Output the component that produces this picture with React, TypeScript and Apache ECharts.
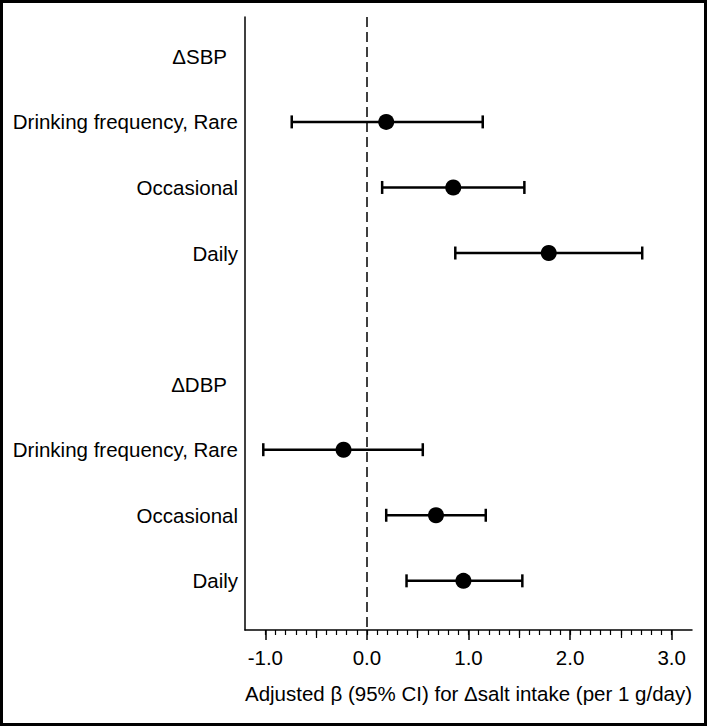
import React, { useEffect, useRef } from "react";
import * as echarts from "echarts";

const rowLabels = [
  "ΔSBP",
  "Drinking frequency, Rare",
  "Occasional",
  "Daily",
  "",
  "ΔDBP",
  "Drinking frequency, Rare",
  "Occasional",
  "Daily",
];
const headerRows = [0, 5];
const dataRows = [1, 2, 3, 6, 7, 8];
const estimates = [0.19, 0.85, 1.79, -0.23, 0.68, 0.95];
const lowerCI = [-0.74, 0.15, 0.87, -1.02, 0.19, 0.39];
const upperCI = [1.14, 1.55, 2.71, 0.55, 1.17, 1.53];
const xTickLabels = [-1, 0, 1, 2, 3];

const FONT = "'Liberation Sans', Arial, Helvetica, sans-serif";
const FS = 20.5;

export default function App() {
  const ref = useRef<HTMLDivElement>(null);
  useEffect(() => {
    document.body.style.margin = "0";
    if (!ref.current) return;
    const chart = echarts.init(ref.current, undefined, { renderer: "svg" });

    const minorTicks: number[] = [];
    for (let i = -10; i <= 30; i++) minorTicks.push(i / 10);
    const midTicks = [-0.5, 0.5, 1.5, 2.5];

    const ciData = dataRows.map((r, i) => [lowerCI[i], upperCI[i], r]);
    const pointData = dataRows.map((r, i) => [estimates[i], r]);
    const labelRows = rowLabels.map((_, i) => i).filter((i) => rowLabels[i] !== "");

    const option: any = {
      animation: false,
      textStyle: { fontFamily: FONT },
      grid: { left: 245, right: 17, top: 17, bottom: 97 },
      graphic: [
        {
          type: "rect",
          shape: { x: 1.5, y: 1.5, width: 704, height: 723 },
          style: { fill: "none", stroke: "#000", lineWidth: 3 },
          silent: true,
        },
      ],
      xAxis: [
        {
          type: "value",
          min: -1.2,
          max: 3.2,
          axisLine: { show: true, onZero: false, lineStyle: { color: "#000", width: 1.5 } },
          axisTick: {
            show: true,
            customValues: xTickLabels,
            length: 10,
            lineStyle: { color: "#000", width: 1.5 },
          },
          axisLabel: {
            customValues: xTickLabels,
            formatter: (v: number) => v.toFixed(1),
            color: "#000",
            fontSize: FS,
            fontFamily: FONT,
            margin: 17,
          },
          splitLine: { show: false },
          name: "Adjusted β (95% CI) for Δsalt intake (per 1 g/day)",
          nameLocation: "middle",
          nameGap: 53,
          nameTextStyle: { color: "#000", fontSize: FS, fontFamily: FONT },
        },
        {
          type: "value",
          min: -1.2,
          max: 3.2,
          position: "bottom",
          axisLine: { show: false, onZero: false },
          axisTick: {
            show: true,
            customValues: minorTicks,
            length: 5,
            lineStyle: { color: "#000", width: 1.2 },
          },
          axisLabel: { show: false },
          splitLine: { show: false },
        },
        {
          type: "value",
          min: -1.2,
          max: 3.2,
          position: "bottom",
          axisLine: { show: false, onZero: false },
          axisTick: {
            show: true,
            customValues: midTicks,
            length: 8,
            lineStyle: { color: "#000", width: 1.2 },
          },
          axisLabel: { show: false },
          splitLine: { show: false },
        },
      ],
      yAxis: {
        type: "value",
        inverse: true,
        min: -0.6,
        max: 8.75,
        axisLine: { show: true, onZero: false, lineStyle: { color: "#000", width: 1.5 } },
        axisTick: { show: false },
        splitLine: { show: false },
        axisLabel: {
          customValues: labelRows,
          margin: 7,
          color: "#000",
          fontSize: FS,
          fontFamily: FONT,
          formatter: (v: number) => {
            const t = rowLabels[Math.round(v)] || "";
            return headerRows.includes(Math.round(v)) ? "{h|" + t + "}" : t;
          },
          rich: {
            h: { fontSize: FS, fontFamily: FONT, color: "#000", padding: [0, 11, 0, 0] },
          },
        },
      },
      series: [
        {
          type: "custom",
          xAxisIndex: 0,
          data: ciData,
          renderItem: (params: any, api: any) => {
            const lo = api.coord([api.value(0), api.value(2)]);
            const hi = api.coord([api.value(1), api.value(2)]);
            const cap = 6.5;
            const style = { stroke: "#000", lineWidth: 2.5 };
            return {
              type: "group",
              children: [
                { type: "line", shape: { x1: lo[0], y1: lo[1], x2: hi[0], y2: hi[1] }, style },
                { type: "line", shape: { x1: lo[0], y1: lo[1] - cap, x2: lo[0], y2: lo[1] + cap }, style },
                { type: "line", shape: { x1: hi[0], y1: hi[1] - cap, x2: hi[0], y2: hi[1] + cap }, style },
              ],
            };
          },
          z: 2,
        },
        {
          type: "scatter",
          xAxisIndex: 0,
          data: pointData,
          symbol: "circle",
          symbolSize: 16,
          itemStyle: { color: "#000", opacity: 1 },
          z: 3,
          markLine: {
            silent: true,
            symbol: "none",
            label: { show: false },
            lineStyle: { color: "#000", width: 1.5, type: [10, 5] },
            data: [{ xAxis: 0 }],
          },
        },
      ],
    };
    chart.setOption(option);
    return () => chart.dispose();
  }, []);
  return <div ref={ref} style={{ width: 709, height: 727 }} />;
}
